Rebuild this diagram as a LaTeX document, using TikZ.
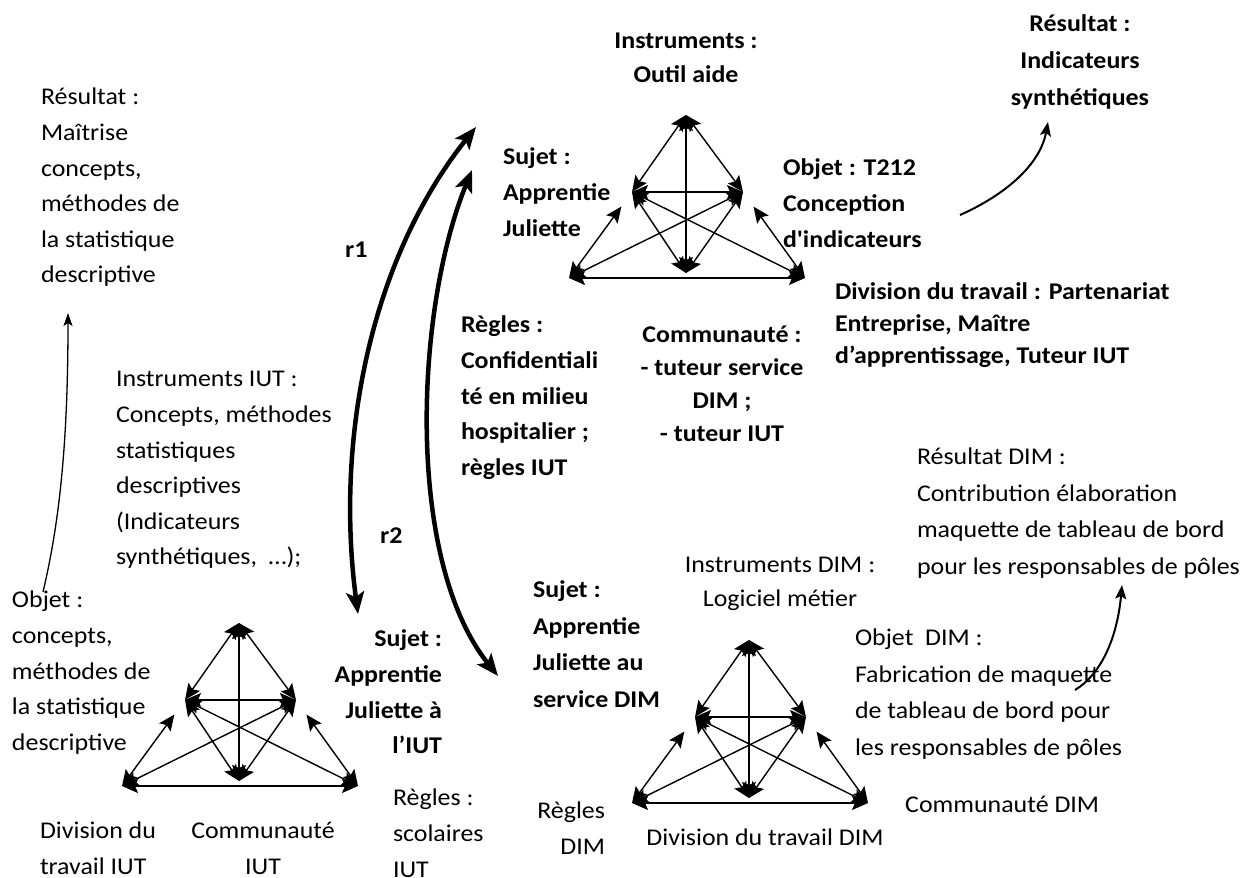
\documentclass[tikz,border=0pt]{standalone}
\usepackage{fontspec}
\setmainfont{Carlito}[FakeStretch=1.08, Ligatures=TeXOff]
\usetikzlibrary{arrows.meta}
\newcommand{\fsn}{\fontsize{24}{35.6}\selectfont}
\newcommand{\fsa}{\fontsize{24}{33}\selectfont}
\newcommand{\fsb}{\fontsize{24}{32}\selectfont}
\newcommand{\fsc}{\fontsize{24}{36.5}\selectfont}
\tikzset{
  lbl/.style={inner sep=0pt, outer sep=0pt, font=\fsn, align=left, anchor=north west, text=black},
  lblc/.style={lbl, align=center, anchor=north},
  lblr/.style={lbl, align=right, anchor=north east},
  tri/.style={line width=1.4pt, {Stealth[length=16pt,width=14pt,inset=3pt]}-{Stealth[length=16pt,width=14pt,inset=3pt]}},
  big/.style={line width=4.5pt, {Stealth[length=22pt,width=18pt,inset=5pt]}-{Stealth[length=22pt,width=18pt,inset=5pt]}},
  res/.style={line width=2pt, -{Stealth[length=14pt,width=11pt,inset=3pt]}},
  up/.style={line width=1.3pt, -{Stealth[length=13pt,width=9pt,inset=3pt]}}
}
\newcommand{\activity}[3]{%
  \begin{scope}[shift={(#2,#3)}]
    \coordinate (#1T) at (0,0);
    \coordinate (#1L) at (-54,77);
    \coordinate (#1R) at (57,77);
    \coordinate (#1BL) at (-117,163);
    \coordinate (#1BM) at (0,158);
    \coordinate (#1BR) at (119,163);
  \end{scope}
  \draw[tri] (#1T) -- (#1L);
  \draw[tri] (#1T) -- (#1R);
  \draw[tri] (#1T) -- (#1BM);
  \draw[tri] (#1L) -- (#1R);
  \draw[tri] (#1L) -- (#1BM);
  \draw[tri] (#1R) -- (#1BM);
  \draw[tri] (#1L) -- (#1BR);
  \draw[tri] (#1R) -- (#1BL);
  \draw[tri, shorten >=18pt] (#1BL) -- (#1L);
  \draw[tri, shorten >=18pt] (#1BR) -- (#1R);
  \draw[tri] (#1BL) -- (#1BR);
}
\begin{document}
\begin{tikzpicture}[x=1pt,y=-1pt]
\useasboundingbox (0,0) rectangle (1245,878);
\fill[white] (0,0) rectangle (1245,878);

% activity systems
\activity{A}{686}{115}
\activity{B}{239}{623}
\activity{C}{749}{640}

% ---- top system labels (bold)
\node[lblc, font=\fontsize{24}{34}\selectfont\bfseries] (instrA) at (686,25) {\strut Instruments :\\Outil aide};
\node[lblc, font=\fontsize{24}{37}\selectfont\bfseries] (resA) at (1080,6) {\strut Résultat :\\Indicateurs\\synthétiques};
\node[lbl, font=\fsn\bfseries] (sujA) at (503,140) {\strut Sujet :\\Apprentie\\Juliette};
\node[lbl, font=\fsn\bfseries] (objA) at (783,151) {\strut Objet : T212\\Conception\\d'indicateurs};
\node[lbl, font=\fsb\bfseries] (divA) at (835,277) {\strut Division du travail : Partenariat\\Entreprise, Maître\\d’apprentissage, Tuteur IUT};
\node[lbl, font=\fsn\bfseries] (regA) at (461,308) {\strut Règles :\\Confidentiali\\té en milieu\\hospitalier ;\\règles IUT};
\node[lblc, font=\fsa\bfseries] (comA) at (722,319) {\strut Communauté :\\- tuteur service\\DIM ;\\- tuteur IUT};

% ---- left column
\node[lbl] (resB) at (41,80) {\strut Résultat :\\Maîtrise\\concepts,\\méthodes de\\la statistique\\descriptive};
\node[lbl] (instrB) at (116,362) {\strut Instruments IUT :\\Concepts, méthodes\\statistiques\\descriptives\\(Indicateurs\\synthétiques,\ \ …);};
\node[lbl] (objB) at (12,583) {\strut Objet :\\concepts,\\méthodes de\\la statistique\\descriptive};
\node[lblr, font=\fsn\bfseries] (sujB) at (442,622) {\strut Sujet :\\Apprentie\\Juliette à\\l’IUT};
\node[lbl] (regB) at (393,781) {\strut Règles :\\scolaires\\IUT};
\node[lbl] (divB) at (40,814) {\strut Division du\\travail IUT};
\node[lblc] (comB) at (263,814) {\strut Communauté\\IUT};

% ---- r1 r2
\node[inner sep=0pt, anchor=base west, font=\fsn\bfseries] (r1) at (345,257) {r1};
\node[inner sep=0pt, anchor=base west, font=\fsn\bfseries] (r2) at (380,543) {r2};

% ---- bottom right system
\node[lbl, font=\fsc] (resC) at (917,439) {\strut Résultat DIM :\\Contribution élaboration\\maquette de tableau de bord\\pour les responsables de pôles};
\node[lblc, font=\fontsize{24}{34}\selectfont] (instrC) at (780,549) {\strut Instruments DIM :\\Logiciel métier};
\node[lbl, font=\fsc\bfseries] (sujC) at (533,572) {\strut Sujet :\\Apprentie\\Juliette au\\service DIM};
\node[lbl, font=\fsc] (objC) at (855,620) {\strut Objet\ \ DIM :\\Fabrication de maquette\\de tableau de bord pour\\les responsables de pôles};
\node[inner sep=0pt, anchor=base west, font=\fsn] (comC) at (905,812) {Communauté DIM};
\node[lblr] (regC) at (605,794) {\strut Règles\\DIM};
\node[inner sep=0pt, anchor=base, font=\fsn] (divC) at (765,845) {Division du travail DIM};

% ---- connectors
\coordinate (r1b) at (358,614);
\coordinate (r1t) at (476,127);
\draw[big] (r1b) .. controls (335,440) and (370,260) .. (r1t);
\coordinate (r2t) at (472,170);
\coordinate (r2b) at (498,676);
\draw[big] (r2t) .. controls (415,310) and (405,560) .. (r2b);

\coordinate (ra1) at (960,215);
\coordinate (ra2) at (1048,122);
\draw[res] (ra1) .. controls (1005,195) and (1040,165) .. (ra2);
\coordinate (rd1) at (1075,690);
\coordinate (rd2) at (1122,585);
\draw[res] (rd1) .. controls (1100,675) and (1117,640) .. (rd2);
\coordinate (la1) at (43,592);
\coordinate (la2) at (68,313);
\draw[up] (la1) .. controls (60,520) and (68,440) .. (la2);
\end{tikzpicture}
\end{document}
